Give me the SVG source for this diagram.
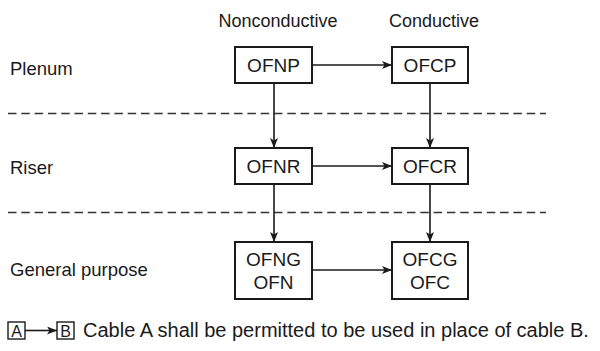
<svg xmlns="http://www.w3.org/2000/svg" width="600" height="351" viewBox="0 0 600 351">
<defs>
<marker id="ah" viewBox="0 0 10 8" refX="10" refY="4" markerWidth="10" markerHeight="8" markerUnits="userSpaceOnUse" orient="auto">
<path d="M0,0 L10,4 L0,8 L2.5,4 Z" fill="#1a1a1a"/>
</marker>
</defs>
<style>
text{font-family:"Liberation Sans",Arial,sans-serif;font-size:18px;fill:#1a1a1a}
.c{text-anchor:middle}
.n{font-size:19px}
.box{fill:#fff;stroke:#1a1a1a;stroke-width:2}
.lb{fill:#fff;stroke:#1a1a1a;stroke-width:1.4}
.e{stroke:#1a1a1a;stroke-width:1.6;fill:none}
.d{stroke:#333;stroke-width:1.4;stroke-dasharray:8.5 4.8;fill:none}
</style>
<rect width="600" height="351" fill="#fff"/>
<text class="c" x="278" y="27">Nonconductive</text>
<text class="c" x="434" y="27">Conductive</text>
<text x="10" y="75" style="font-size:18.5px">Plenum</text>
<text x="10" y="174" style="font-size:18.5px">Riser</text>
<text x="10" y="276" style="font-size:18.5px">General purpose</text>
<line class="d" x1="8" y1="113.5" x2="546" y2="113.5"/>
<line class="d" x1="8" y1="212.5" x2="546" y2="212.5"/>
<g id="edges">
<line class="e" x1="312" y1="65" x2="392" y2="65" marker-end="url(#ah)"/>
<line class="e" x1="312" y1="166" x2="392" y2="166" marker-end="url(#ah)"/>
<line class="e" x1="312" y1="270" x2="392" y2="270" marker-end="url(#ah)"/>
<line class="e" x1="274" y1="83" x2="274" y2="148" marker-end="url(#ah)"/>
<line class="e" x1="274" y1="184" x2="274" y2="242" marker-end="url(#ah)"/>
<line class="e" x1="430" y1="83" x2="430" y2="148" marker-end="url(#ah)"/>
<line class="e" x1="430" y1="184" x2="430" y2="242" marker-end="url(#ah)"/>
<line class="e" x1="25" y1="330.5" x2="57" y2="330.5" marker-end="url(#ah)"/>
</g>
<g id="OFNP"><rect class="box" x="235" y="47" width="77" height="36"/><text class="c n" x="273.5" y="72">OFNP</text></g>
<g id="OFCP"><rect class="box" x="392" y="47" width="76" height="36"/><text class="c n" x="430" y="72">OFCP</text></g>
<g id="OFNR"><rect class="box" x="235" y="148" width="77" height="36"/><text class="c n" x="273.5" y="173">OFNR</text></g>
<g id="OFCR"><rect class="box" x="392" y="148" width="76" height="36"/><text class="c n" x="430" y="173">OFCR</text></g>
<g id="OFNG"><rect class="box" x="235" y="242" width="77" height="57"/><text class="c n" x="273.5" y="266">OFNG</text><text class="c n" x="273.5" y="289">OFN</text></g>
<g id="OFCG"><rect class="box" x="392" y="242" width="76" height="57"/><text class="c n" x="430" y="266">OFCG</text><text class="c n" x="430" y="289">OFC</text></g>
<g id="legendA"><rect class="lb" x="8" y="322" width="17" height="17"/><text class="c" x="16.5" y="337" style="font-size:16px">A</text></g>
<g id="legendB"><rect class="lb" x="57" y="322" width="17" height="17"/><text class="c" x="65.5" y="337" style="font-size:16px">B</text></g>
<text x="83" y="337" style="font-size:20px">Cable A shall be permitted to be used in place of cable B.</text>
</svg>
